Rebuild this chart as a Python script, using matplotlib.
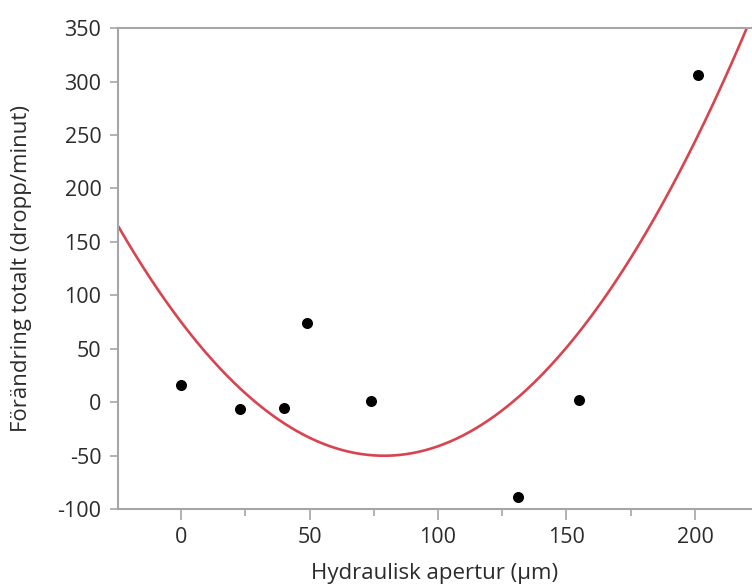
import numpy as np
import matplotlib
matplotlib.use("Agg")
import matplotlib.pyplot as plt
from matplotlib.ticker import MultipleLocator

# Measured points
aperture_um = [0, 23, 40, 49, 74, 131, 155, 201]
change_total = [16, -6, -5, 74, 1, -89, 2, 306]

# Quadratic fit coefficients
fit_coeffs = [0.02006, -3.169, 75.2]

x_limits = (-24.5, 222.2)
y_limits = (-100, 350)

plt.rcParams["font.family"] = ["Open Sans", "DejaVu Sans"]
plt.rcParams["axes.unicode_minus"] = False

fig = plt.figure(figsize=(7.52, 5.84), dpi=100)
ax = fig.add_axes([0.157, 0.128, 0.843, 0.824])

axis_gray = "#a6a6a6"
text_color = "#2b2b2b"

xs = np.linspace(x_limits[0], x_limits[1], 400)
ax.plot(xs, np.polyval(fit_coeffs, xs), color="#d9434f", lw=1.9, zorder=2)
ax.scatter(aperture_um, change_total, s=48, color="black", zorder=3)

ax.set_xlim(*x_limits)
ax.set_ylim(*y_limits)
ax.xaxis.set_major_locator(MultipleLocator(50))
ax.xaxis.set_minor_locator(MultipleLocator(25))
ax.yaxis.set_major_locator(MultipleLocator(50))

for side in ("left", "bottom", "top"):
    ax.spines[side].set_color(axis_gray)
    ax.spines[side].set_linewidth(1.5)
ax.spines["right"].set_visible(False)

ax.tick_params(axis="y", which="major", length=6, width=1.2, color=axis_gray,
               labelsize=15.5, labelcolor=text_color, pad=6)
ax.tick_params(axis="x", which="major", length=8, width=1.2, color=axis_gray,
               labelsize=15.5, labelcolor=text_color, pad=5)
ax.tick_params(axis="x", which="minor", length=5, width=1.2, color=axis_gray)

ax.set_xlabel("Hydraulisk apertur (µm)", fontsize=16, color=text_color)
ax.set_ylabel("Förändring totalt (dropp/minut)", fontsize=16, color=text_color)
ax.xaxis.set_label_coords(0.5, -0.112)
ax.yaxis.set_label_coords(-0.135, 0.5)

fig.savefig("out.png", dpi=100)
